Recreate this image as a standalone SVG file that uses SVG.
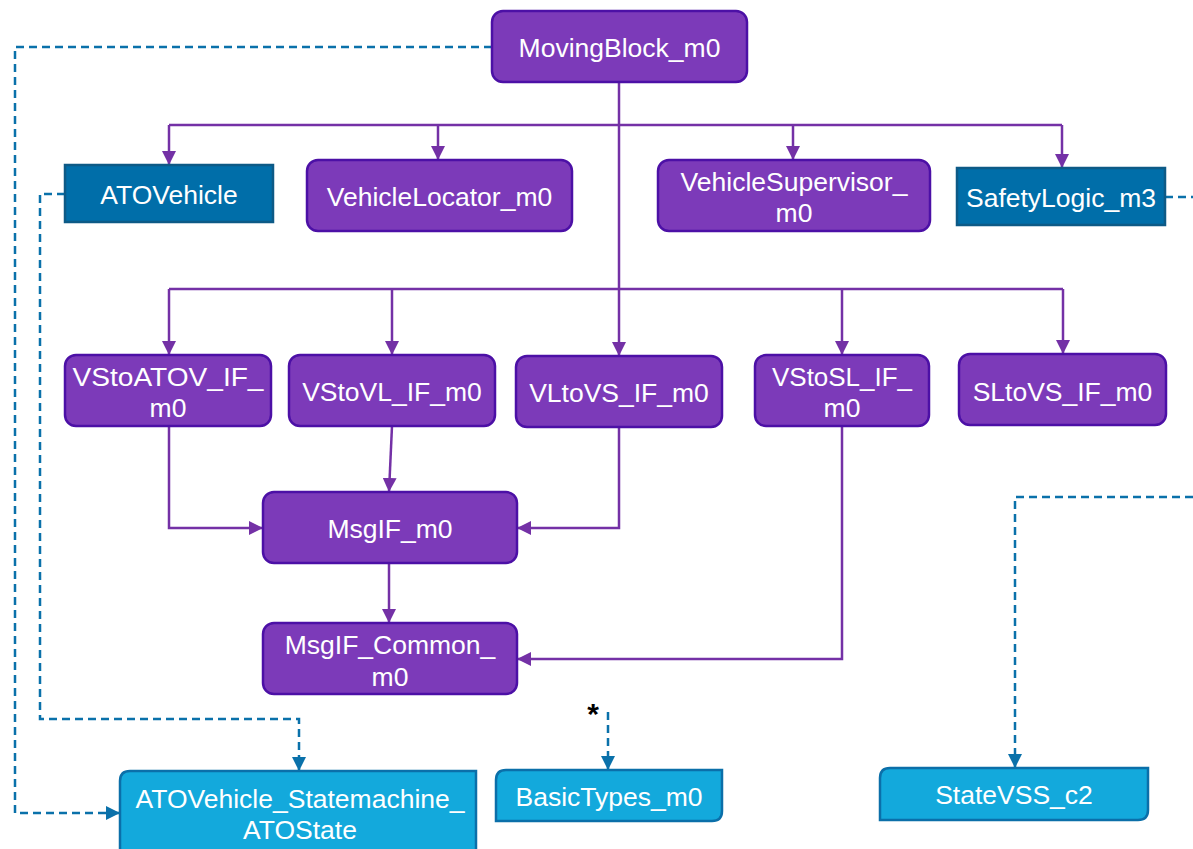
<svg xmlns="http://www.w3.org/2000/svg" width="1193" height="849" viewBox="0 0 1193 849">
  <style>
    .mod { fill: #7c3ab9; stroke: #4c10a6; stroke-width: 2.5; }
    .comp { fill: #006ea9; stroke: #0d5a86; stroke-width: 2.5; }
    .type { fill: #13a9dc; stroke: #0b6fa9; stroke-width: 2.5; }
    .lbl { font-family: "Liberation Sans", Arial, sans-serif; font-size: 26.5px; fill: #ffffff; text-anchor: middle; }
    .use { fill: none; stroke: #7431a6; stroke-width: 2.5; }
    .dep { fill: none; stroke: #0a71aa; stroke-width: 2.5; stroke-dasharray: 8 5; }
  </style>
  <defs>
    <marker id="ah" viewBox="0 0 14 14" refX="14" refY="7" markerWidth="14" markerHeight="14" markerUnits="userSpaceOnUse" orient="auto">
      <path d="M0,0 L14,7 L0,14 Z" fill="#7431a6"/>
    </marker>
    <marker id="ahb" viewBox="0 0 14 14" refX="14" refY="7" markerWidth="14" markerHeight="14" markerUnits="userSpaceOnUse" orient="auto">
      <path d="M0,0 L14,7 L0,14 Z" fill="#0a71aa"/>
    </marker>
  </defs>

  <g id="connectors">
    <!-- usage links from MovingBlock_m0 -->
    <path class="use" d="M619,82 V289"/>
    <path class="use" d="M169,125 H1062"/>
    <path class="use" d="M169,125 V165" marker-end="url(#ah)"/>
    <path class="use" d="M438,125 V160" marker-end="url(#ah)"/>
    <path class="use" d="M793,125 V160" marker-end="url(#ah)"/>
    <path class="use" d="M1062,125 V168" marker-end="url(#ah)"/>
    <path class="use" d="M169,289 H1063"/>
    <path class="use" d="M169,289 V355" marker-end="url(#ah)"/>
    <path class="use" d="M392,289 V355" marker-end="url(#ah)"/>
    <path class="use" d="M619,289 V356" marker-end="url(#ah)"/>
    <path class="use" d="M842,289 V355" marker-end="url(#ah)"/>
    <path class="use" d="M1063,289 V354" marker-end="url(#ah)"/>
    <!-- interface links to messaging -->
    <path class="use" d="M169,426 V528 H263" marker-end="url(#ah)"/>
    <path class="use" d="M392,426 L389,492" marker-end="url(#ah)"/>
    <path class="use" d="M619,427 V528 H517" marker-end="url(#ah)"/>
    <path class="use" d="M389,563 V623" marker-end="url(#ah)"/>
    <path class="use" d="M842,426 V659 H517" marker-end="url(#ah)"/>
    <!-- dependency links -->
    <path class="dep" d="M492,47 H15 V813 H120" marker-end="url(#ahb)"/>
    <path class="dep" d="M65,194 H40 V719 H299 V771" marker-end="url(#ahb)"/>
    <path class="dep" d="M1165,197 H1193"/>
    <path class="dep" d="M1193,497 H1015 V768" marker-end="url(#ahb)"/>
    <path class="dep" d="M608,712 V770" marker-end="url(#ahb)"/>
    <text x="593" y="724" font-family="Liberation Sans, Arial, sans-serif" font-size="30" font-weight="bold" fill="#000000" text-anchor="middle">*</text>
  </g>

  <g id="MovingBlock_m0">
    <rect class="mod" x="492" y="11" width="255" height="71" rx="11"/>
    <text class="lbl" x="619.5" y="56.5">MovingBlock_m0</text>
  </g>

  <g id="ATOVehicle">
    <rect class="comp" x="65" y="165" width="208" height="57"/>
    <text class="lbl" x="169" y="203.5">ATOVehicle</text>
  </g>

  <g id="VehicleLocator_m0">
    <rect class="mod" x="307" y="160" width="265" height="71" rx="11"/>
    <text class="lbl" x="439.5" y="205.5">VehicleLocator_m0</text>
  </g>

  <g id="VehicleSupervisor_m0">
    <rect class="mod" x="658" y="160" width="272" height="71" rx="11"/>
    <text class="lbl" x="794" y="190.5">VehicleSupervisor_</text>
    <text class="lbl" x="794" y="221.5">m0</text>
  </g>

  <g id="SafetyLogic_m3">
    <rect class="comp" x="957" y="168" width="208" height="57"/>
    <text class="lbl" x="1061" y="206.5">SafetyLogic_m3</text>
  </g>

  <g id="VStoATOV_IF_m0">
    <rect class="mod" x="65" y="355" width="206" height="71" rx="11"/>
    <text class="lbl" x="168" y="385.5" textLength="191" lengthAdjust="spacingAndGlyphs">VStoATOV_IF_</text>
    <text class="lbl" x="168" y="416.5">m0</text>
  </g>

  <g id="VStoVL_IF_m0">
    <rect class="mod" x="289" y="355" width="206" height="71" rx="11"/>
    <text class="lbl" x="392" y="400.5">VStoVL_IF_m0</text>
  </g>

  <g id="VLtoVS_IF_m0">
    <rect class="mod" x="516" y="356" width="206" height="71" rx="11"/>
    <text class="lbl" x="619" y="401.5">VLtoVS_IF_m0</text>
  </g>

  <g id="VStoSL_IF_m0">
    <rect class="mod" x="755" y="355" width="174" height="71" rx="11"/>
    <text class="lbl" x="842" y="385.5" textLength="140" lengthAdjust="spacingAndGlyphs">VStoSL_IF_</text>
    <text class="lbl" x="842" y="416.5">m0</text>
  </g>

  <g id="SLtoVS_IF_m0">
    <rect class="mod" x="959" y="354" width="207" height="71" rx="11"/>
    <text class="lbl" x="1062.5" y="400.5">SLtoVS_IF_m0</text>
  </g>

  <g id="MsgIF_m0">
    <rect class="mod" x="263" y="492" width="254" height="71" rx="11"/>
    <text class="lbl" x="390" y="537.5">MsgIF_m0</text>
  </g>

  <g id="MsgIF_Common_m0">
    <rect class="mod" x="263" y="623" width="254" height="71" rx="11"/>
    <text class="lbl" x="390" y="653.5">MsgIF_Common_</text>
    <text class="lbl" x="390" y="685.5">m0</text>
  </g>

  <g id="ATOVehicle_Statemachine_ATOState">
    <path class="type" d="M130,771 H476 V860 H120 V781 Q120,771 130,771 Z"/>
    <text class="lbl" x="300" y="808">ATOVehicle_Statemachine_</text>
    <text class="lbl" x="300" y="839">ATOState</text>
  </g>

  <g id="BasicTypes_m0">
    <path class="type" d="M506,770 H722 V811 Q722,821 712,821 H496 V780 Q496,770 506,770 Z"/>
    <text class="lbl" x="609" y="805.5">BasicTypes_m0</text>
  </g>

  <g id="StateVSS_c2">
    <path class="type" d="M890,768 H1148 V810 Q1148,820 1138,820 H880 V778 Q880,768 890,768 Z"/>
    <text class="lbl" x="1014" y="803.5">StateVSS_c2</text>
  </g>
</svg>
